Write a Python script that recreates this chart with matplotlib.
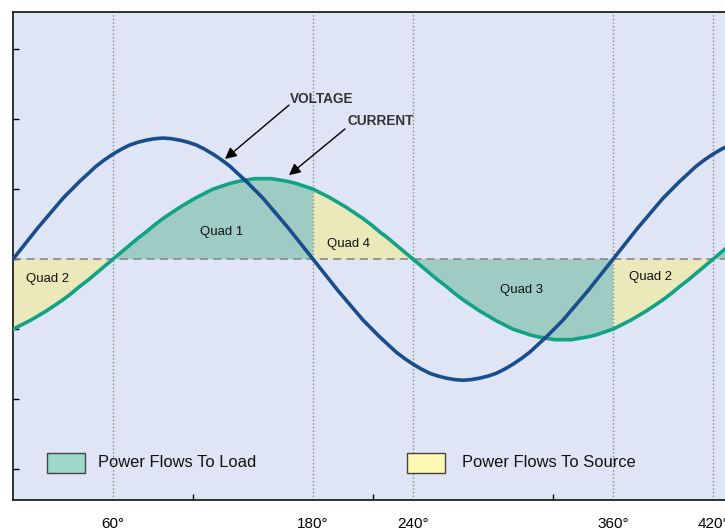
#!/usr/bin/env python3
"""Voltage / current phase diagram with the four power-flow quadrants shaded."""
import numpy as np
import matplotlib
matplotlib.use("Agg")
import matplotlib.pyplot as plt
from matplotlib import font_manager
from matplotlib.patches import Rectangle

# --------------------------------------------------------------------------
# data (every 5 degrees from 0 to 430)
# --------------------------------------------------------------------------
angle_deg = list(range(0, 435, 5))
voltage = [0.00, 0.15, 0.30, 0.45, 0.59, 0.73, 0.87, 0.99, 1.11, 1.22,
           1.33, 1.42, 1.50, 1.57, 1.63, 1.67, 1.70, 1.72, 1.73,
           1.72, 1.70, 1.67, 1.63, 1.57, 1.50, 1.42, 1.33, 1.22, 1.11,
           0.99, 0.87, 0.73, 0.59, 0.45, 0.30, 0.15, 0.00,
           -0.15, -0.30, -0.45, -0.59, -0.73, -0.87, -0.99, -1.11, -1.22,
           -1.33, -1.42, -1.50, -1.57, -1.63, -1.67, -1.70, -1.72, -1.73,
           -1.72, -1.70, -1.67, -1.63, -1.57, -1.50, -1.42, -1.33, -1.22,
           -1.11, -0.99, -0.87, -0.73, -0.59, -0.45, -0.30, -0.15, 0.00,
           0.15, 0.30, 0.45, 0.59, 0.73, 0.87, 0.99, 1.11, 1.22,
           1.33, 1.42, 1.50, 1.57, 1.63]
current = [-1.00, -0.94, -0.88, -0.81, -0.74, -0.66, -0.58, -0.49, -0.39,
           -0.30, -0.20, -0.10, 0.00,
           0.10, 0.20, 0.30, 0.39, 0.49, 0.58, 0.66, 0.74, 0.81,
           0.88, 0.94, 1.00, 1.04, 1.08, 1.11, 1.13, 1.15, 1.15,
           1.15, 1.13, 1.11, 1.08, 1.04, 1.00, 0.94, 0.88, 0.81,
           0.74, 0.66, 0.58, 0.49, 0.39, 0.30, 0.20, 0.10, 0.00,
           -0.10, -0.20, -0.30, -0.39, -0.49, -0.58, -0.66, -0.74, -0.81,
           -0.88, -0.94, -1.00, -1.04, -1.08, -1.11, -1.13, -1.15, -1.15,
           -1.15, -1.13, -1.11, -1.08, -1.04, -1.00, -0.94, -0.88, -0.81,
           -0.74, -0.66, -0.58, -0.49, -0.39, -0.30, -0.20, -0.10, 0.00,
           0.10, 0.20]

tick_deg = [60, 180, 240, 360, 420]
tick_labels = ["60°", "180°", "240°", "360°", "420°"]
minor_deg = [108, 216, 324]
y_ticks = [-3, -2, -1, 0, 1, 2, 3]

quad_names = ["Quad 1", "Quad 4", "Quad 2", "Quad 3", "Quad 2"]
quad_pos = [(125.4, 0.39), (201.0, 0.21), (20.4, -0.29), (305.2, -0.44), (382.5, -0.26)]

legend_labels = ["Power Flows To Load", "Power Flows To Source"]

# --------------------------------------------------------------------------
# style
# --------------------------------------------------------------------------
BG = "#dfe5f4"
C_VOLT = "#1a4d8c"
C_CURR = "#12a385"
FILL_LOAD = "#9ecbc3"
FILL_SRC = "#ebe8b9"
LEG_LOAD = "#9dd8c9"
LEG_SRC = "#fff9b4"

names = {f.name for f in font_manager.fontManager.ttflist}
if "Liberation Sans Narrow" in names:
    NARROW, k = "Liberation Sans Narrow", 1.0
else:
    NARROW, k = "Liberation Sans", 0.82
plt.rcParams["font.family"] = ["Liberation Sans", "DejaVu Sans"]

x = np.array(angle_deg, dtype=float)
v = np.array(voltage)
i = np.array(current)

fig = plt.figure(figsize=(7.25, 5.31), dpi=100)
fig.patch.set_facecolor("white")
# axes runs slightly past the right edge of the image, like the original
ax = fig.add_axes([13 / 725, 31 / 531, 716.7 / 725, 488 / 531])
ax.set_facecolor(BG)
ax.set_xlim(0, 430)
ax.set_ylim(-3.44, 3.53)

# quadrant shading: same sign -> power to load, opposite sign -> to source
same = v * i >= 0
opp = v * i <= 0
ax.fill_between(x, 0, i, where=same, color=FILL_LOAD, lw=0, zorder=1)
ax.fill_between(x, 0, i, where=opp, color=FILL_SRC, lw=0, zorder=1)

for d in tick_deg:
    ax.axvline(d, color="#8a8a8a", lw=1, ls=(0, (1, 1.6)), zorder=2)
ax.axhline(0, color="#8a8a8a", lw=1.2, ls=(0, (5, 3)), zorder=2)

ax.plot(x, v, color=C_VOLT, lw=2.6, zorder=4)
ax.plot(x, i, color=C_CURR, lw=2.6, zorder=3)

# axes / ticks
ax.set_xticks(tick_deg)
ax.set_xticklabels(tick_labels, fontsize=11)
ax.tick_params(axis="x", length=0, pad=12)
ax.set_xticks(minor_deg, minor=True)
ax.tick_params(axis="x", which="minor", direction="in", length=4, width=1)
ax.set_yticks(y_ticks)
ax.set_yticklabels([])
ax.tick_params(axis="y", direction="in", length=4, width=1)
for s in ax.spines.values():
    s.set_color("#222222")
    s.set_linewidth(1.3)

# annotations
arrow = dict(arrowstyle="-|>", color="black", lw=1, mutation_scale=17,
             shrinkA=0, shrinkB=0)
ax.annotate("", xy=(127.2, 1.43), xytext=(165.6, 2.20), arrowprops=arrow, zorder=5)
ax.annotate("", xy=(165.6, 1.20), xytext=(199.2, 1.86), arrowprops=arrow, zorder=5)
ax.text(166.0, 2.29, "VOLTAGE", family=[NARROW, "DejaVu Sans"], fontweight="bold",
        fontsize=12 * k, color="#333333", va="center", ha="left")
ax.text(200.4, 1.97, "CURRENT", family=[NARROW, "DejaVu Sans"], fontweight="bold",
        fontsize=12 * k, color="#333333", va="center", ha="left")

for name, (qx, qy) in zip(quad_names, quad_pos):
    ax.text(qx, qy, name, family=[NARROW, "DejaVu Sans"], fontsize=11.5 * k,
            color="#111111", ha="center", va="center", zorder=5)

# legend drawn by hand, as in the original
for (px, tx), col, lab in zip([(20.4, 51.0), (236.4, 269.4)],
                              [LEG_LOAD, LEG_SRC], legend_labels):
    ax.add_patch(Rectangle((px, -3.06), 22.8, 0.286, facecolor=col,
                           edgecolor="#444444", lw=1, zorder=5))
    ax.text(tx, -2.91, lab, family=[NARROW, "DejaVu Sans"], fontsize=14.5 * k,
            color="#111111", ha="left", va="center", zorder=5)

fig.savefig("out.png", dpi=100, facecolor="white")
